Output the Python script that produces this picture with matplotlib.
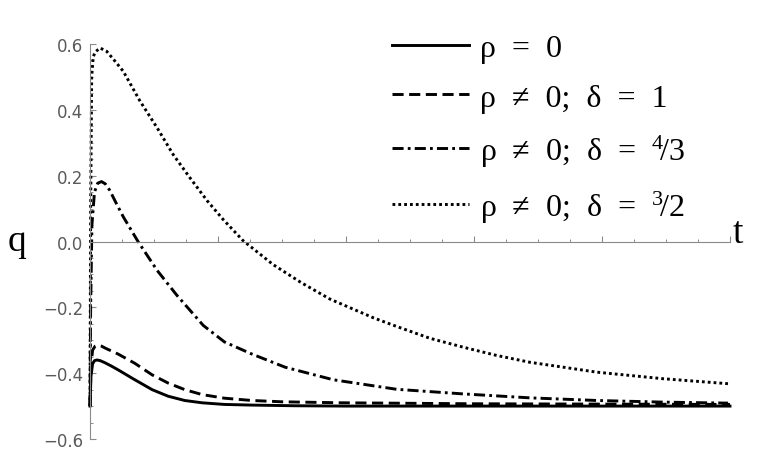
import numpy as np
import matplotlib
matplotlib.use('Agg')
import matplotlib.pyplot as plt
from matplotlib.lines import Line2D

# values
t_rho0 = [0, 0.015, 0.04, 0.07, 0.11, 0.16, 0.23, 0.33, 0.44, 0.70, 0.97, 1.22, 1.48, 1.75, 2.1, 2.53,
          3.2, 4.0, 10.0]
q_rho0 = [-0.5, -0.41, -0.372, -0.362, -0.36, -0.362, -0.368, -0.378, -0.39, -0.42, -0.45, -0.47, -0.483,
          -0.49, -0.495, -0.497, -0.499, -0.5, -0.5]

t_d1 = [0, 0.015, 0.04, 0.08, 0.12, 0.18, 0.25, 0.44, 0.70, 0.97, 1.22, 1.48, 1.75, 2.1, 2.53, 3.0,
        3.94, 6.0, 10.0]
q_d1 = [-0.5, -0.38, -0.33, -0.318, -0.315, -0.318, -0.325, -0.342, -0.37, -0.405, -0.43, -0.45,
        -0.465, -0.476, -0.483, -0.487, -0.49, -0.493, -0.495]

t_d43 = [0, 0.01, 0.03, 0.07, 0.12, 0.18, 0.24, 0.31, 0.40, 0.52, 0.75, 1.05, 1.36, 1.77, 2.1, 2.53,
         3.05, 3.8, 4.79, 5.83, 6.875, 7.92, 8.96, 9.97]
q_d43 = [-0.5, -0.2, 0.05, 0.15, 0.177, 0.182, 0.175, 0.155, 0.12, 0.075, 0.0, -0.088, -0.164, -0.255,
         -0.305, -0.342, -0.382, -0.42, -0.449, -0.463, -0.475, -0.483, -0.488, -0.491]

t_d32 = [0, 0.01, 0.026, 0.05, 0.078, 0.156, 0.26, 0.39, 0.52, 0.78, 1.05, 1.30, 1.56, 1.83, 2.08,
         2.39, 2.86, 3.3, 3.75, 4.43, 4.79, 5.31, 5.83, 6.35, 6.875, 7.40, 7.92, 8.44, 8.96, 9.97]
q_d32 = [-0.5, 0.1, 0.5, 0.56, 0.575, 0.588, 0.578, 0.548, 0.517, 0.427, 0.345, 0.264, 0.194, 0.124,
         0.067, 0.003, -0.07, -0.125, -0.175, -0.232, -0.258, -0.294, -0.321, -0.346, -0.367, -0.382,
         -0.397, -0.407, -0.417, -0.432]

labels = ['ρ  =  0', 'ρ  ≠  0;  δ  =  1', r'ρ  ≠  0;  δ  =  ${}^{4}\!/3$', r'ρ  ≠  0;  δ  =  ${}^{3}\!/2$']

y_ticks = [-0.6, -0.4, -0.2, 0.0, 0.2, 0.4, 0.6]
y_tick_labels = ['−0.6', '−0.4', '−0.2', '0.0', '0.2', '0.4', '0.6']

plt.rcParams['lines.scale_dashes'] = False
plt.rcParams['mathtext.fontset'] = 'custom'
plt.rcParams['mathtext.rm'] = 'Liberation Serif'
plt.rcParams['mathtext.it'] = 'Liberation Serif:italic'

fig = plt.figure(figsize=(7.6, 4.6), dpi=100)
ax = fig.add_axes([90 / 760, 20 / 460, 640 / 760, 395 / 460])

styles = ['-', (0, (8, 4)), (0, (8, 3, 2, 3)), (0, (2, 2.2))]
series = [(t_rho0, q_rho0), (t_d1, q_d1), (t_d43, q_d43), (t_d32, q_d32)]
for (tt, qq), ls in zip(series, styles):
    ax.plot(tt, qq, color='black', lw=2.1, linestyle=ls, clip_on=False)

ax.set_xlim(0, 10)
ax.set_ylim(-0.6, 0.6)

axis_gray = '#8a8a8a'
for s in ['top', 'right']:
    ax.spines[s].set_visible(False)
ax.spines['bottom'].set_position(('data', 0))
ax.spines['left'].set_position(('data', 0))
for s in ['bottom', 'left']:
    ax.spines[s].set_color(axis_gray)
    ax.spines[s].set_linewidth(0.8)

ax.set_xticks(np.arange(2, 11, 2))
ax.set_xticks(np.arange(0.5, 10.01, 0.5), minor=True)
ax.set_yticks(y_ticks)
ax.set_yticklabels(y_tick_labels, family='DejaVu Sans', fontsize=12, color='#5a5a5a')
ax.set_yticks(np.arange(-0.6, 0.61, 0.05), minor=True)
ax.tick_params(axis='x', labelbottom=False)
ax.tick_params(which='major', direction='in', length=4, width=0.8, color=axis_gray, pad=5)
ax.tick_params(which='minor', direction='in', length=2.2, width=0.7, color=axis_gray)

fig.text(8 / 760, (460 - 251) / 460, 'q', family='Liberation Serif', fontsize=27, va='baseline')
fig.text(733 / 760, (460 - 243) / 460, 't', family='Liberation Serif', fontsize=27, va='baseline')

handles = [Line2D([], [], color='black', lw=2.1, linestyle=ls) for ls in styles]
ax.legend(handles, labels, loc='upper left', bbox_to_anchor=(392 / 760, (460 - 35) / 460),
          bbox_transform=fig.transFigure, frameon=False, borderpad=0, borderaxespad=0,
          prop={'family': 'Liberation Serif', 'size': 23}, handlelength=2.4,
          handletextpad=0.35, labelspacing=0.62)

fig.savefig('out.png', dpi=100)
